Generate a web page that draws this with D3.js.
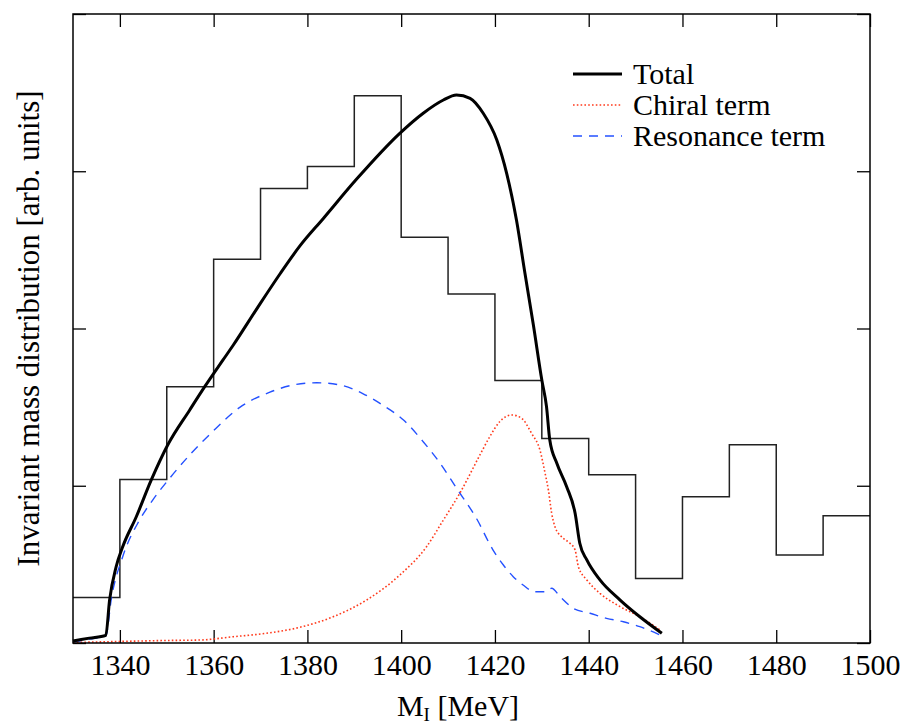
<!DOCTYPE html>
<html>
<head>
<meta charset="utf-8">
<script src="https://cdn.jsdelivr.net/npm/d3@7"></script>
<style>
  html, body { margin: 0; padding: 0; background: #fff; }
  svg { display: block; }
  text { font-family: "Liberation Serif", "Times New Roman", serif; fill: #000; }
</style>
</head>
<body>
<svg id="chart" width="904" height="725"></svg>
<script>
// ---- data ----
const binEdges = [1330,1340,1350,1360,1370,1380,1390,1400,1410,1420,1430,1440,1450,1460,1470,1480,1490,1500];
const histValues = [0.29,1.04,1.63,2.44,2.89,3.03,3.48,2.58,2.22,1.67,1.30,1.07,0.41,0.93,1.26,0.56,0.81];

const totalX = [1330,1333.5,1337.0,1337.8,1339.2,1340.6,1343.5,1346.7,1350.2,1354.9,1358.1,1362.0,1364.2,1369.2,1374.1,1378.4,1383.4,1390.5,1399.7,1404.7,1409.0,1411.8,1414.7,1417.5,1420.4,1422.5,1424.6,1426.4,1428.2,1430.0,1431.0,1431.7,1433.2,1435.3,1437.1,1438.1,1439.6,1442.4,1446.7,1450.9,1455.6];
const totalY = [0.013,0.031,0.049,0.273,0.485,0.612,0.803,1.037,1.259,1.482,1.630,1.800,1.895,2.125,2.345,2.525,2.700,2.950,3.241,3.369,3.453,3.485,3.464,3.369,3.199,2.987,2.688,2.351,2.022,1.672,1.503,1.291,1.143,0.994,0.825,0.634,0.528,0.401,0.273,0.167,0.062];

const chiralX = [1330,1340,1350,1357.1,1364.2,1371.3,1378.4,1385.5,1392.6,1399.7,1405.4,1409.0,1412.5,1416.8,1418.9,1421.0,1423.6,1425.7,1427.8,1429.6,1430.7,1431.4,1432.1,1432.8,1434.2,1436.0,1437.1,1437.8,1439.6,1442.4,1446.7,1450.9,1455.2];
const chiralY = [0.003,0.010,0.016,0.019,0.040,0.062,0.100,0.167,0.273,0.432,0.612,0.782,0.952,1.196,1.312,1.407,1.450,1.429,1.334,1.227,1.079,0.973,0.825,0.740,0.676,0.634,0.591,0.485,0.401,0.316,0.231,0.167,0.083];

const resX = [1330,1333.5,1337.0,1338.2,1340.6,1344.2,1347.0,1350.6,1354.9,1359.8,1365.5,1372.0,1377.0,1382.0,1386.9,1391.9,1396.2,1400.5,1404.7,1408.3,1411.8,1416.1,1419.6,1421.8,1423.9,1426.0,1428.5,1430.7,1432.1,1433.9,1436.7,1440.3,1443.8,1447.4,1450.9,1455.2];
const resY = [0.006,0.025,0.045,0.286,0.549,0.782,0.909,1.047,1.196,1.345,1.497,1.595,1.641,1.655,1.641,1.585,1.510,1.418,1.280,1.143,0.985,0.790,0.591,0.496,0.422,0.369,0.326,0.326,0.348,0.294,0.221,0.189,0.157,0.135,0.104,0.051];

const xTicks = [1340,1360,1380,1400,1420,1440,1460,1480,1500];
const yTicks = [0,1,2,3,4];
const legendLabels = ["Total","Chiral term","Resonance term"];
const xTitle = "M";
const xTitleSub = "I";
const xTitleRest = " [MeV]";
const yTitle = "Invariant mass distribution [arb. units]";

// ---- layout ----
const L = 73, R = 870, T = 14, B = 643;
const svg = d3.select("#chart");
const x = d3.scaleLinear().domain([1330,1500]).range([L,R]);
const y = d3.scaleLinear().domain([0,4]).range([B,T]);

// ticks (inside), all four sides
const tickLen = 13;
const axB = svg.append("g").attr("transform",`translate(0,${B})`)
  .call(d3.axisBottom(x).tickValues(xTicks).tickSize(-tickLen).tickPadding(11).tickFormat(d3.format("d")));
const axT = svg.append("g").attr("transform",`translate(0,${T})`)
  .call(d3.axisTop(x).tickValues(xTicks).tickSize(-tickLen).tickFormat(""));
const axL = svg.append("g").attr("transform",`translate(${L},0)`)
  .call(d3.axisLeft(y).tickValues(yTicks).tickSize(-tickLen).tickFormat(""));
const axR = svg.append("g").attr("transform",`translate(${R},0)`)
  .call(d3.axisRight(y).tickValues(yTicks).tickSize(-tickLen).tickFormat(""));
[axB,axT,axL,axR].forEach(a => {
  a.select(".domain").remove();
  a.selectAll(".tick line").attr("stroke","#000").attr("stroke-width",1.3);
});
axB.selectAll(".tick text").attr("font-size",30).attr("font-family","Liberation Serif").attr("fill","#000");

// histogram
const histPts = histValues.map((v,i)=>[binEdges[i], v]);
histPts.push([binEdges[binEdges.length-1], histValues[histValues.length-1]]);
svg.append("path").datum(histPts)
  .attr("fill","none").attr("stroke","#222").attr("stroke-width",1.5)
  .attr("d", d3.line().x(d=>x(d[0])).y(d=>y(d[1])).curve(d3.curveStepAfter));

const line = d3.line().x(d=>x(d[0])).y(d=>y(d[1])).curve(d3.curveMonotoneX);

svg.append("path").datum(resX.map((v,i)=>[v,resY[i]]))
  .attr("fill","none").attr("stroke","#2451ff").attr("stroke-width",1.4)
  .attr("stroke-dasharray","9,7").attr("d", line);
svg.append("path").datum(chiralX.map((v,i)=>[v,chiralY[i]]))
  .attr("fill","none").attr("stroke","#ff3a1c").attr("stroke-width",1.6)
  .attr("stroke-dasharray","1.6,2.2").attr("d", line);
svg.append("path").datum(totalX.map((v,i)=>[v,totalY[i]]))
  .attr("fill","none").attr("stroke","#000").attr("stroke-width",3)
  .attr("stroke-linejoin","round").attr("d", line);

// frame
svg.append("rect").attr("x",L).attr("y",T).attr("width",R-L).attr("height",B-T)
  .attr("fill","none").attr("stroke","#000").attr("stroke-width",1.5);

// legend
const legStyles = [
  {stroke:"#000", w:3, dash:null},
  {stroke:"#ff3a1c", w:1.6, dash:"1.6,2.2"},
  {stroke:"#2451ff", w:1.4, dash:"9,7"}
];
const legY = [74, 105, 136];
legendLabels.forEach((lab,i)=>{
  const g = svg.append("g");
  g.append("line").attr("x1",573).attr("x2",622).attr("y1",legY[i]).attr("y2",legY[i])
    .attr("stroke",legStyles[i].stroke).attr("stroke-width",legStyles[i].w)
    .attr("stroke-dasharray",legStyles[i].dash);
  g.append("text").attr("x",633).attr("y",legY[i]+9.5).attr("font-size",30).text(lab);
});

// axis titles
const xt = svg.append("text").attr("x",458).attr("y",716).attr("text-anchor","middle").attr("font-size",30);
xt.append("tspan").text(xTitle);
xt.append("tspan").attr("font-size",19).attr("dy",5).text(xTitleSub);
xt.append("tspan").attr("dy",-5).text(xTitleRest);

svg.append("text").attr("transform",`translate(39,${(T+B)/2}) rotate(-90)`)
  .attr("text-anchor","middle").attr("font-size",31).text(yTitle);
</script>
</body>
</html>
